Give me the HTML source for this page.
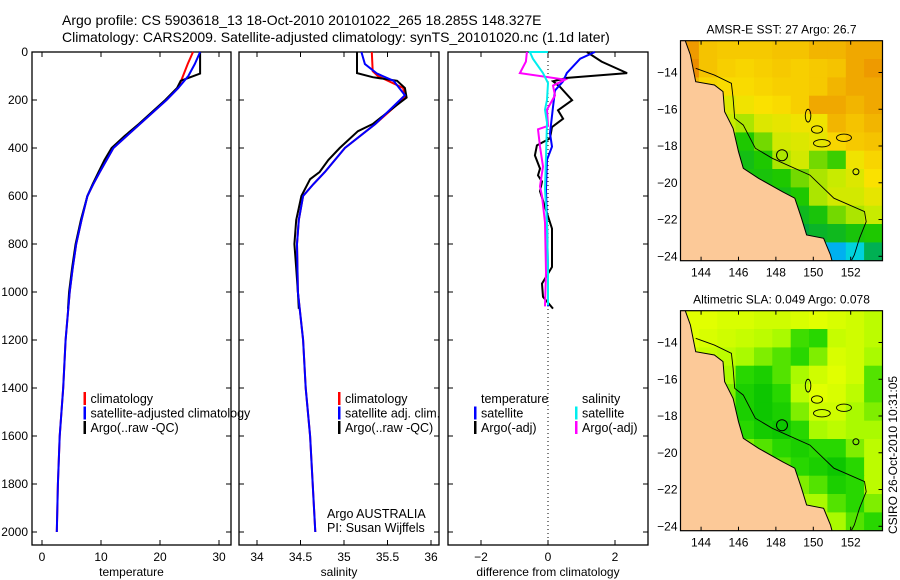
<!DOCTYPE html>
<html><head><meta charset="utf-8"><style>
html,body{margin:0;padding:0;background:#fff;width:900px;height:580px;overflow:hidden;}
svg{display:block;font-family:"Liberation Sans",sans-serif;overflow:hidden;}
</style></head><body>
<svg id="fig" width="900" height="580" viewBox="0 0 900 580" xmlns="http://www.w3.org/2000/svg">
<rect width="900" height="580" fill="#fff"/>
<text x="62" y="25" font-size="14">Argo profile: CS 5903618_13 18-Oct-2010 20101022_265 18.285S 148.327E</text>
<text x="62" y="42" font-size="14">Climatology: CARS2009. Satellite-adjusted climatology: synTS_20101020.nc (1.1d later)</text>
<text transform="translate(897,455) rotate(-90)" text-anchor="middle" font-size="12">CSIRO 26-Oct-2010 10:31:05</text>
<g id="plots"></g>
</svg>
<script>
// ---- data ----
const depthTicks=[0,200,400,600,800,1000,1200,1400,1600,1800,2000];
const tempTicks=[0,10,20,30];
const salTicks=[34,34.5,35,35.5,36];
const diffTicks=[-2,0,2];
const tClimDepth=[0,50,100,150,200,300,400,500,550,600,700,800,900,1000,1200,1400,1600,1800,2000];
const tClim=[25.6,24.7,23.9,23.1,21.1,16.6,12.1,9.8,8.7,7.7,6.7,5.8,5.2,4.7,4.0,3.6,3.0,2.7,2.5];
const tSat=[26.8,25.9,24.8,23.1,21.1,16.6,12.1,9.8,8.7,7.7,6.7,5.8,5.2,4.7,4.0,3.6,3.0,2.7,2.5];
const tArgoDepth=[0,90,120,150,200,300,350,400,450,500,550,600,700,800,900,1000,1070];
const tArgo=[26.8,26.8,23.5,22.9,20.9,16.4,14.0,11.8,10.6,9.6,8.6,7.7,6.6,5.7,5.1,4.6,4.4];
const sClimDepth=[0,80,100,150,190,300,400,500,550,600,700,800,1000,1200,1400,1600,1800,2000];
const sClim=[35.32,35.33,35.39,35.68,35.70,35.36,35.01,34.78,34.65,34.53,34.48,34.46,34.47,34.53,34.56,34.61,34.64,34.67];
const sSatDepth=[0,50,90,120,180,300,400,500,550,600,700,800,1000,1200,1400,1600,1800,2000];
const sSat=[35.2,35.24,35.38,35.57,35.70,35.36,35.01,34.78,34.65,34.53,34.48,34.46,34.47,34.53,34.56,34.61,34.64,34.67];
const sArgoDepth=[0,88,105,120,150,190,220,300,330,400,450,500,530,600,700,800,900,1000,1070];
const sArgo=[35.15,35.15,35.33,35.61,35.70,35.72,35.61,35.33,35.16,34.95,34.82,34.72,34.61,34.51,34.45,34.43,34.45,34.47,34.48];
const dTArgoDepth=[0,40,88,108,122,146,201,243,278,313,360,389,431,486,514,540,580,646,736,896,965,1020,1069];
const dTArgo=[1.16,1.6,2.36,0.57,0.15,0.36,0.72,0.3,0.45,0.12,0.06,-0.33,-0.39,-0.24,-0.3,-0.18,-0.24,-0.09,0.12,0.12,-0.18,-0.15,0.15];
const dTSatDepth=[0,28,88,122,160,229,339,394,449,573,710,917,1060];
const dTSat=[1.4,0.96,0.56,0.45,0.21,0.15,0.06,0.12,-0.03,-0.06,-0.03,0,0];
const dSSatDepth=[0,0,28,88,129,200,240,294,436,573,710,917,1055];
const dSSat=[0,-0.54,-0.45,-0.15,0,-0.03,-0.09,-0.03,-0.06,-0.09,-0.03,0,0];
const dSArgoDepth=[0,40,88,115,140,181,240,308,322,394,477,560,600,710,917,1060];
const dSArgo=[-0.63,-0.66,-0.84,0.51,0.15,0.21,-0.03,0,-0.3,-0.24,-0.15,-0.24,-0.18,-0.09,-0.06,-0.09];
const lonTicks=[144,146,148,150,152];
const latTicks=[-14,-16,-18,-20,-22,-24];
const sstGrid=[
[27.5,27.2,27.1,27.1,27.1,27.2,27.2,27.3,27.3,27.4,27.4],
[27.6,27.2,27.0,26.9,27.0,27.1,27.0,27.1,27.2,27.4,27.5],
[27.3,26.9,26.8,26.8,26.9,27.0,27.0,27.1,27.3,27.4,27.4],
[26.8,26.5,26.4,26.6,26.7,26.8,27.0,27.4,27.4,27.3,27.4],
[26.3,26.2,26.2,26.1,26.4,26.5,26.6,26.6,27.3,27.2,27.3],
[26.0,26.0,25.9,25.6,25.9,26.3,26.4,26.5,26.9,27.1,27.2],
[25.5,25.5,25.5,25.4,25.6,26.1,26.3,25.9,25.7,26.6,26.9],
[25.2,25.3,25.4,25.5,25.5,25.6,25.9,26.1,26.2,26.4,26.7],
[25.0,25.2,25.3,25.4,25.4,25.4,25.6,26.1,26.3,26.3,26.5],
[25.0,25.0,25.1,25.2,25.3,25.3,25.3,25.5,25.9,26.1,26.2],
[25.0,25.0,25.0,25.0,25.0,25.1,25.0,25.2,25.3,25.5,25.6],
[24.5,24.5,24.5,24.5,24.5,24.5,24.3,24.2,23.9,24.3,24.9]];
const slaGrid=[
[0.9,0.9,0.85,0.85,0.8,0.8,0.85,0.9,0.85,0.8,0.7],
[0.9,0.85,0.8,0.75,0.7,0.6,0.35,0.3,0.75,0.8,0.7],
[0.8,0.75,0.7,0.6,0.5,0.4,0.3,0.5,0.85,0.8,0.6],
[0.7,0.7,0.6,0.3,0.2,0.4,0.6,0.8,0.9,0.8,0.4],
[0.6,0.6,0.5,0.2,0.1,0.3,0.7,0.9,0.85,0.7,0.4],
[0.6,0.6,0.5,0.2,0.1,0.2,0.5,0.8,0.8,0.6,0.5],
[0.6,0.6,0.5,0.3,0.15,0.1,0.3,0.6,0.7,0.6,0.6],
[0.6,0.6,0.6,0.5,0.4,0.3,0.2,0.3,0.3,0.5,0.7],
[0.6,0.6,0.6,0.6,0.5,0.4,0.3,0.2,0.1,0.3,0.7],
[0.6,0.6,0.6,0.6,0.6,0.5,0.5,0.4,0.2,0.3,0.7],
[0.6,0.6,0.6,0.6,0.6,0.6,0.6,0.6,0.4,0.3,0.5],
[0.6,0.6,0.6,0.6,0.6,0.6,0.6,0.7,0.6,0.4,0.3]];
const coastLon=[143.16,143.43,143.71,144.71,145.17,145.26,145.71,146.0,146.26,147.08,148.36,149.01,149.37,149.64,150.55,150.92,151.1];
const coastLat=[-12.29,-13.05,-14.5,-14.68,-15.04,-16.13,-17.04,-18.31,-19.21,-19.76,-20.49,-20.84,-21.93,-22.84,-23.02,-23.93,-24.64];
const reefLon=[143.71,144.71,145.62,145.71,145.8,146.26,146.9,147.81,149.82,151.1,152.74,152.83,152.47,152.19,151.83];
const reefLat=[-13.77,-14.14,-14.59,-15.4,-16.49,-16.86,-18.12,-18.67,-19.58,-20.84,-21.57,-22.12,-23.02,-23.93,-24.64];
const argoLon=148.327, argoLat=-18.5;

const NS='http://www.w3.org/2000/svg';
const root=document.getElementById('plots');
function mk(tag,attrs,parent){const e=document.createElementNS(NS,tag);for(const k in attrs)e.setAttribute(k,attrs[k]);(parent||root).appendChild(e);return e;}
function lin(d0,d1,r0,r1){return v=>r0+(v-d0)*(r1-r0)/(d1-d0);}
const Y=lin(0,2000,52,532);

function panel(name,x0,x1,sx,ticks,fmt,xlabel){
  const g=mk('g',{});
  
  
  const box=mk('rect',{x:x0,y:52,width:x1-x0,height:545-52,fill:'none',stroke:'#000','stroke-width':1.3},g);
  
  
  ticks.forEach(t=>{const x=sx(t);
    mk('line',{x1:x,y1:545,x2:x,y2:540,stroke:'#000'},g);
    mk('line',{x1:x,y1:52,x2:x,y2:57,stroke:'#000'},g);
    const tl=mk('text',{x:x,y:561,'font-size':12,'text-anchor':'middle'},g);tl.textContent=fmt(t);
    
    
  });
  depthTicks.forEach(d=>{const y=Y(d);
    mk('line',{x1:x0,y1:y,x2:x0+5,y2:y,stroke:'#000'},g);
    mk('line',{x1:x1,y1:y,x2:x1-5,y2:y,stroke:'#000'},g);
  });
  const xl=mk('text',{x:(x0+x1)/2,y:576,'font-size':12,'text-anchor':'middle'},g);xl.textContent=xlabel;
  
  
  return g;
}
function series(g,name,xs,ds,sx,color,w){
  const pts=xs.map((v,i)=>sx(v).toFixed(1)+','+Y(ds[i]).toFixed(1)).join(' ');
  const p=mk('polyline',{points:pts,fill:'none',stroke:color,'stroke-width':w||2,'stroke-linejoin':'miter'},g);
  
  
}
function legend(g,name,x,entries){
  entries.forEach((e,i)=>{const y=398+i*14.5;
    if(e[1]){const m=mk('rect',{x:x-7,y:y-6,width:2.5,height:13,fill:e[1]},g);
      
      }
    const t=mk('text',{x:x,y:y+5,'font-size':12.5},g);t.textContent=e[0];
    
    
  });
}
depthTicks.forEach(d=>{const t=mk('text',{x:28,y:Y(d)+4,'font-size':12,'text-anchor':'end'});t.textContent=d;
  
  });

const sxT=lin(0,30,42,219);
const gT=panel('temperature',32,231,sxT,tempTicks,String,'temperature');
series(gT,'temp-climatology-line',tClim,tClimDepth,sxT,'#f00',2);
series(gT,'temp-argo-line',tArgo,tArgoDepth,sxT,'#000',2);
series(gT,'temp-satellite-line',tSat,tClimDepth,sxT,'#00f',2);
legend(gT,'temp-legend',90.5,[['climatology','#f00'],['satellite-adjusted climatology','#00f'],['Argo(..raw -QC)','#000']]);

const sxS=lin(34,36,257,431);
const gS=panel('salinity',239,439,sxS,salTicks,String,'salinity');
series(gS,'sal-climatology-line',sClim,sClimDepth,sxS,'#f00',2);
series(gS,'sal-argo-line',sArgo,sArgoDepth,sxS,'#000',2);
series(gS,'sal-satellite-line',sSat,sSatDepth,sxS,'#00f',2);
legend(gS,'sal-legend',345,[['climatology','#f00'],['satellite adj. clim.','#00f'],['Argo(..raw -QC)','#000']]);
const a1=mk('text',{x:327,y:518,'font-size':12.5},gS);a1.textContent='Argo AUSTRALIA';


const a2=mk('text',{x:327,y:532,'font-size':12.5},gS);a2.textContent='PI: Susan Wijffels';



const sxD=lin(-2,2,481,615);
const gD=panel('difference',448,648,sxD,diffTicks,t=>t<0?'\u2212'+Math.abs(t):String(t),'difference from climatology');
const zl=mk('line',{x1:sxD(0),y1:53,x2:sxD(0),y2:544,stroke:'#000','stroke-dasharray':'1,3'},gD);


series(gD,'diff-temp-argo-line',dTArgo,dTArgoDepth,sxD,'#000',2);
series(gD,'diff-temp-satellite-line',dTSat,dTSatDepth,sxD,'#00f',2);
series(gD,'diff-sal-argo-line',dSArgo,dSArgoDepth,sxD,'#f0f',2);
series(gD,'diff-sal-satellite-line',dSSat,dSSatDepth,sxD,'#0ee',2);
legend(gD,'diff-temp-legend',481,[['temperature',null],['satellite','#00f'],['Argo(-adj)','#000']]);
legend(gD,'diff-sal-legend',582,[['salinity',null],['satellite','#0ee'],['Argo(-adj)','#f0f']]);

function sstColor(v){
  const stops=[[23.6,[0,150,255]],[24.3,[0,210,220]],[25.0,[0,170,60]],[25.6,[30,200,0]],[26.2,[200,235,0]],[26.7,[250,225,0]],[27.2,[245,195,0]],[27.6,[235,140,0]]];
  return interp(stops,v);}
function slaColor(v){
  const stops=[[0,[0,190,0]],[0.3,[40,215,0]],[0.6,[170,250,0]],[0.9,[225,255,0]]];
  return interp(stops,v);}
function interp(stops,v){
  if(v<=stops[0][0])return 'rgb('+stops[0][1]+')';
  for(let i=1;i<stops.length;i++){if(v<=stops[i][0]){const f=(v-stops[i-1][0])/(stops[i][0]-stops[i-1][0]);
    const c=stops[i-1][1].map((a,k)=>Math.round(a+(stops[i][1][k]-a)*f));return 'rgb('+c+')';}}
  return 'rgb('+stops[stops.length-1][1]+')';}
function map(name,top,title,grid,colf){
  const x0=680.5,x1=882.5,y0=top,y1=top+220;
  const LX=lin(142.9,153.7,x0,x1), LY=lin(-12.27,-24.24,y0,y1);
  const g=mk('g',{});
  
  
  const cp=mk('clipPath',{id:name+'clip'},g);mk('rect',{x:x0,y:y0,width:x1-x0,height:y1-y0},cp);
  const inner=mk('g',{'clip-path':'url(#'+name+'clip)'},g);
  const rows=grid.length, cols=grid[0].length;
  grid.forEach((row,r)=>row.forEach((v,c)=>{
    const lon0=142.9+c*(10.8/cols), lat0=-12.27-r*(11.97/rows);
    const cell=mk('rect',{x:LX(lon0).toFixed(1),y:LY(lat0).toFixed(1),width:(LX(lon0+10.8/cols)-LX(lon0)+0.6).toFixed(1),height:(LY(lat0-11.97/rows)-LY(lat0)+0.6).toFixed(1),fill:colf(v)},inner);
    
    
  }));
  const land='M'+LX(142.0)+','+LY(-12.0)+' L'+LX(coastLon[0])+','+LY(-12.0)+' '+coastLon.map((v,i)=>'L'+LX(v).toFixed(1)+','+LY(coastLat[i]).toFixed(1)).join(' ')+' L'+LX(coastLon[coastLon.length-1])+','+LY(-24.8)+' L'+LX(142)+','+LY(-24.8)+'Z';
  const lp=mk('path',{d:land,fill:'#fcc998',stroke:'#000','stroke-width':1},inner);
  
  
  const rp=mk('polyline',{points:reefLon.map((v,i)=>LX(v).toFixed(1)+','+LY(reefLat[i]).toFixed(1)).join(' '),fill:'none',stroke:'#000','stroke-width':0.9},inner);
  
  
  [[149.72,-16.35,0.15,0.35],[150.2,-17.1,0.3,0.2],[150.46,-17.85,0.45,0.2],[151.64,-17.55,0.4,0.2]].forEach(e=>{
    const el=mk('ellipse',{cx:LX(e[0]),cy:LY(e[1]),rx:e[2]*18.7,ry:e[3]*18.4,fill:'none',stroke:'#000','stroke-width':0.9},inner);
    
    });
  const ac=mk('circle',{cx:LX(argoLon),cy:LY(argoLat),r:5.5,fill:'none',stroke:'#000','stroke-width':1},inner);
  
  
  const sc=mk('circle',{cx:LX(152.28),cy:LY(-19.4),r:3,fill:'none',stroke:'#000','stroke-width':1},inner);
  
  
  const fr=mk('rect',{x:x0,y:y0,width:x1-x0,height:y1-y0,fill:'none',stroke:'#000','stroke-width':1.2},g);
  
  
  lonTicks.forEach(t=>{const x=LX(t);mk('line',{x1:x,y1:y1,x2:x,y2:y1-4,stroke:'#000'},g);
    mk('line',{x1:x,y1:y0,x2:x,y2:y0+4,stroke:'#000'},g);
    const tl=mk('text',{x:x,y:y1+16,'font-size':12,'text-anchor':'middle'},g);tl.textContent=t;
    
    });
  latTicks.forEach(t=>{const y=LY(t);mk('line',{x1:x1,y1:y,x2:x1-4,y2:y,stroke:'#000'},g);
    const tl=mk('text',{x:x0-3,y:y+4,'font-size':12,'text-anchor':'end'},g);tl.textContent='\u2212'+Math.abs(t);
    
    });
  const tt=mk('text',{x:(x0+x1)/2,y:y0-7,'font-size':12,'text-anchor':'middle'},g);tt.textContent=title;
  
  
}
map('sst',40.7,'AMSR-E SST: 27 Argo: 26.7',sstGrid,sstColor);
map('sla',310.7,'Altimetric SLA: 0.049 Argo: 0.078',slaGrid,slaColor);
</script>
</body></html>
